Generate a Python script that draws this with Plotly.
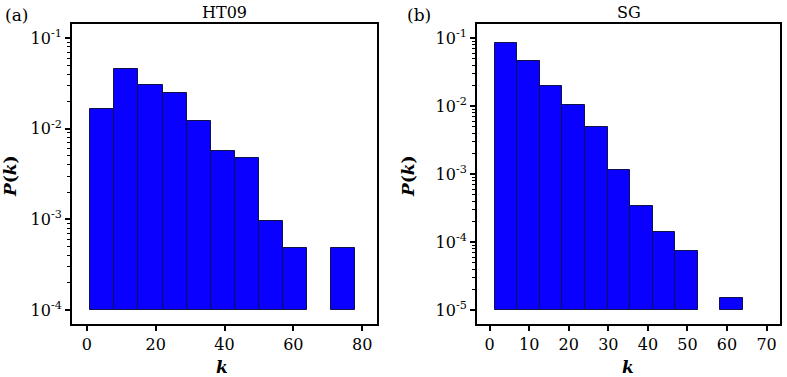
import plotly.graph_objects as go

# ---- data ----
ht09_edges_start = 1
ht09_bin_width = 7
ht09_values = [0.0164, 0.0455, 0.0303, 0.0245, 0.0121, 0.0057, 0.0048, 0.00097, 0.00048, 0.0, 0.00048]
ht09_base = 1e-4

sg_edges_start = 1.3
sg_bin_width = 5.7
sg_values = [0.086, 0.0463, 0.0199, 0.0105, 0.0050, 0.00115, 0.000343, 0.000142, 0.0000741, 0.0, 0.0000149]
sg_base = 1e-5

ht09_xticks = [0, 20, 40, 60, 80]
sg_xticks = [0, 10, 20, 30, 40, 50, 60, 70]
ht09_yticks = [1e-4, 1e-3, 1e-2, 1e-1]
ht09_yticktext = ["10<sup>-4</sup>", "10<sup>-3</sup>", "10<sup>-2</sup>", "10<sup>-1</sup>"]
sg_yticks = [1e-5, 1e-4, 1e-3, 1e-2, 1e-1]
sg_yticktext = ["10<sup>-5</sup>", "10<sup>-4</sup>", "10<sup>-3</sup>", "10<sup>-2</sup>", "10<sup>-1</sup>"]

FONT = "DejaVu Serif"
BLUE = "#0a00ff"
EDGE = "#10104a"


def bar_trace(start, width, values, base, xaxis, yaxis):
    xs, ys = [], []
    for i, v in enumerate(values):
        if v > 0:
            xs.append(start + width * (i + 0.5))
            ys.append(v - base)
    return go.Bar(x=xs, y=ys, base=[base] * len(xs), width=width,
                  marker=dict(color=BLUE, line=dict(color=EDGE, width=1)),
                  xaxis=xaxis, yaxis=yaxis, showlegend=False)


def minor_vals(lo_exp, hi_exp):
    out = []
    for e in range(lo_exp, hi_exp):
        for m in range(2, 10):
            out.append(m * 10 ** e)
    return out


fig = go.Figure()
fig.add_trace(bar_trace(ht09_edges_start, ht09_bin_width, ht09_values, ht09_base, "x", "y"))
fig.add_trace(bar_trace(sg_edges_start, sg_bin_width, sg_values, sg_base, "x2", "y2"))

W, H = 787, 377
axis_common = dict(showline=True, linecolor="black", linewidth=2, mirror=True,
                   showgrid=False, zeroline=False, ticks="outside", ticklen=5,
                   tickwidth=1.5, tickcolor="black",
                   tickfont=dict(family=FONT, size=16, color="black"))

fig.update_layout(
    width=W, height=H,
    margin=dict(l=0, r=0, t=0, b=0),
    paper_bgcolor="white", plot_bgcolor="white",
    bargap=0,
    xaxis=dict(domain=[72 / W, 377 / W], range=[-4.3, 84.3], tickvals=ht09_xticks,
               anchor="y", **axis_common),
    yaxis=dict(domain=[1 - 324 / H, 1 - 24 / H], type="log", range=[-4.154, -0.846],
               tickvals=ht09_yticks, ticktext=ht09_yticktext, anchor="x",
               minor=dict(ticks="outside", ticklen=3, tickcolor="black", tickwidth=1,
                          tickvals=minor_vals(-4, -1)),
               **axis_common),
    xaxis2=dict(domain=[477 / W, 780 / W], range=[-3.2, 73.4], tickvals=sg_xticks,
                anchor="y2", **axis_common),
    yaxis2=dict(domain=[1 - 324 / H, 1 - 24 / H], type="log", range=[-5.206, -0.79],
                tickvals=sg_yticks, ticktext=sg_yticktext, anchor="x2",
                minor=dict(ticks="outside", ticklen=3, tickcolor="black", tickwidth=1,
                           tickvals=minor_vals(-5, -1)),
                **axis_common),
)

ann_font = dict(family=FONT, size=16, color="black")
lab_font = dict(family=FONT, size=17, color="black")
anns = [
    dict(text="HT09", x=(72 + 377) / 2 / W, y=1 - 12 / H, xanchor="center", yanchor="middle", font=ann_font),
    dict(text="SG", x=(477 + 780) / 2 / W, y=1 - 12 / H, xanchor="center", yanchor="middle", font=ann_font),
    dict(text="(a)", x=3 / W, y=1 - 15 / H, xanchor="left", yanchor="middle", font=dict(family=FONT, size=17, color="black")),
    dict(text="(b)", x=405 / W, y=1 - 15 / H, xanchor="left", yanchor="middle", font=dict(family=FONT, size=17, color="black")),
    dict(text="<b><i>P</i></b><b>(<i>k</i>)</b>", x=10 / W, y=1 - 176 / H, textangle=-90,
         xanchor="center", yanchor="middle", font=lab_font),
    dict(text="<b><i>P</i></b><b>(<i>k</i>)</b>", x=408 / W, y=1 - 176 / H, textangle=-90,
         xanchor="center", yanchor="middle", font=lab_font),
    dict(text="<b><i>k</i></b>", x=222 / W, y=1 - 367 / H, xanchor="center", yanchor="middle",
         font=lab_font),
    dict(text="<b><i>k</i></b>", x=628 / W, y=1 - 367 / H, xanchor="center", yanchor="middle",
         font=lab_font),
]
for a in anns:
    a.update(xref="paper", yref="paper", showarrow=False)
fig.update_layout(annotations=anns)

fig.write_html("out.html", config={"displayModeBar": False},
               post_script="document.body.style.margin='0';document.body.style.overflow='hidden';")
